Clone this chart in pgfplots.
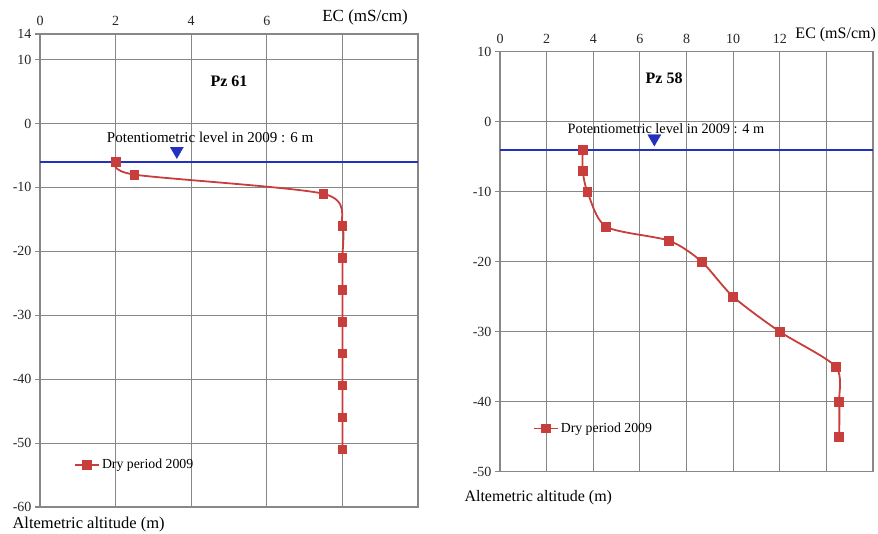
\documentclass[border=0pt]{standalone}
\usepackage{fontspec}
\setmainfont{Liberation Serif}
\usepackage{pgfplots}
\pgfplotsset{compat=1.18}
\definecolor{ecred}{RGB}{200,62,60}
\definecolor{pblue}{RGB}{35,50,190}
\definecolor{gridgray}{RGB}{135,135,135}
\begin{document}
\begin{tikzpicture}[x=1pt,y=1pt]
\useasboundingbox (0,0) rectangle (878,534);
\pgfplotsset{
  myax/.style={
    scale only axis,
    clip=false,
    axis line style={gridgray, line width=1.1pt},
    grid=major,
    grid style={gridgray, line width=1.1pt},
    xticklabel pos=upper,
    ytick pos=left,
    xtick style={draw=none},
    ytick style={gridgray, line width=1.1pt},
    tick align=outside,
    major tick length=5pt,
    /pgf/number format/assume math mode=true,
    tick label style={font=\fontsize{14}{14}\selectfont, text=black!85},
    legend style={draw=none, fill=none, font=\fontsize{13.8}{14}\selectfont, anchor=west, inner sep=0pt},
    legend image code/.code={\draw[mark repeat=2,mark phase=2] plot coordinates {(0pt,0pt) (12pt,0pt) (24pt,0pt)};},
  },
}
\begin{axis}[myax, at={(40pt,27pt)}, anchor=south west, width=378pt, height=473pt,
  xmin=0,xmax=10,ymin=-60,ymax=14,
  xtick={0,2,...,10}, xticklabels={0,2,4,6,,},
  ytick={-60,-50,...,10,14},
  legend style={at={(0.09,0.089)}}]
\addplot[pblue, line width=2pt, forget plot] coordinates {(0,-6) (10,-6)};
\addplot[pblue, only marks, mark=triangle*, mark size=7.5pt, mark options={rotate=180}, forget plot] coordinates {(3.62,-4.3)};
\addplot[ecred, line width=1.8pt, smooth, tension=0.45, mark=square*, mark size=4pt, mark options={solid}] coordinates {
(2,-6) (2.5,-8) (7.5,-11) (8,-16) (8,-21) (8,-26) (8,-31) (8,-36) (8,-41) (8,-46) (8,-51)};
\addlegendentry{Dry period 2009}
\node[font=\fontsize{15}{15}\selectfont] at (axis cs:4.5,-2.2) {Potentiometric level in 2009 : 6 m};
\node[font=\bfseries\fontsize{16}{16}\selectfont] at (axis cs:5,6.6) {Pz 61};
\node[font=\fontsize{17}{17}\selectfont] at (rel axis cs:0.86,1.036) {EC (mS/cm)};
\end{axis}
\node[anchor=west, font=\fontsize{16.5}{16.5}\selectfont] at (9,9) {Altemetric altitude (m)};

\begin{axis}[myax, at={(500pt,62.3pt)}, anchor=south west, width=373pt, height=420pt,
  xmin=0,xmax=16,ymin=-50,ymax=10,
  xtick={0,2,...,16}, xticklabels={0,2,4,6,8,10,12,,},
  ytick={-50,-40,...,10},
  legend style={at={(0.088,0.103)}}]
\addplot[pblue, line width=2pt, forget plot] coordinates {(0,-4) (16,-4)};
\addplot[pblue, only marks, mark=triangle*, mark size=7.5pt, mark options={rotate=180}, forget plot] coordinates {(6.62,-2.4)};
\addplot[ecred, line width=1.8pt, smooth, tension=0.45, mark=square*, mark size=4pt, mark options={solid}] coordinates {
(3.55,-4) (3.55,-7) (3.75,-10) (4.55,-15) (7.25,-17) (8.65,-20) (10,-25) (12,-30) (14.4,-35) (14.55,-40) (14.55,-45)};
\addlegendentry{Dry period 2009}
\node[font=\fontsize{14.3}{15}\selectfont] at (axis cs:7.12,-1.0) {Potentiometric level in 2009 : 4 m};
\node[font=\bfseries\fontsize{16}{16}\selectfont] at (axis cs:7.04,6.2) {Pz 58};
\node[font=\fontsize{16}{16}\selectfont] at (rel axis cs:0.90,1.04) {EC (mS/cm)};
\end{axis}
\node[anchor=west, font=\fontsize{16}{16}\selectfont] at (461,36) {Altemetric altitude (m)};
\end{tikzpicture}
\end{document}
